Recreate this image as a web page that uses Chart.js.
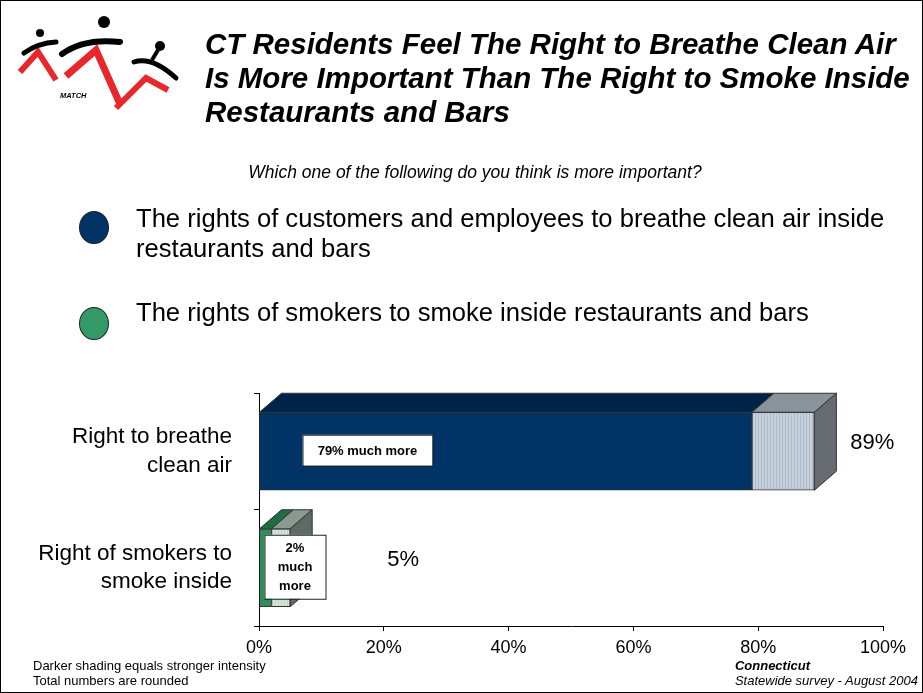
<!DOCTYPE html>
<html>
<head>
<meta charset="utf-8">
<script src="https://cdn.jsdelivr.net/npm/chart.js@4.4.0/dist/chart.umd.min.js"></script>
<style>
  body { margin: 0; background: #fff; }
  #page { position: relative; width: 923px; height: 693px; overflow: hidden; font-family: "Liberation Sans", Arial, sans-serif; color: #000; }
  #frame { position: absolute; left: 0; top: 0; width: 923px; height: 693px; box-sizing: border-box; border: 1px solid #000; pointer-events: none; }
  #chart { position: absolute; left: 0; top: 0; }
  .t { position: absolute; white-space: nowrap; }
  #title { left: 205px; top: 27px; font-size: 29.5px; line-height: 34px; font-weight: bold; font-style: italic; }
  #question { left: 0; width: 950px; text-align: center; top: 161px; font-size: 17.5px; line-height: 22px; font-style: italic; }
  .legtext { left: 136px; font-size: 25.6px; line-height: 30px; }
  .dot { position: absolute; width: 30px; height: 33px; border-radius: 50%; border: 1px solid #222; box-sizing: border-box; }
  .foot { font-size: 13px; line-height: 15px; }
</style>
</head>
<body>
<div id="page">
  <canvas id="chart" width="923" height="693"></canvas>

  <svg class="t" style="left:0;top:0" width="200" height="130" viewBox="0 0 200 130">
    <path d="M20 72 L38 52 L56 80" stroke="#e8262c" stroke-width="6" fill="none"/>
    <path d="M24 53 Q38 43 56 42" stroke="#000" stroke-width="5" fill="none" stroke-linecap="round"/>
    <circle cx="40" cy="33" r="4" fill="#000"/>
    <path d="M66 76 L96 50 L120 104" stroke="#e8262c" stroke-width="7" fill="none"/>
    <path d="M62 54 Q84 38 120 42" stroke="#000" stroke-width="6" fill="none" stroke-linecap="round"/>
    <circle cx="104" cy="22" r="6" fill="#000"/>
    <path d="M116 108 L146 78 L168 90" stroke="#e8262c" stroke-width="6" fill="none"/>
    <path d="M134 62 Q152 56 176 78" stroke="#000" stroke-width="5" fill="none" stroke-linecap="round"/>
    <path d="M152 60 L158 50" stroke="#000" stroke-width="4" fill="none"/>
    <circle cx="160" cy="46" r="5" fill="#000"/>
    <text x="60" y="98" font-size="7.5" font-weight="bold" font-style="italic" font-family="Liberation Sans, Arial">MATCH</text>
  </svg>

  <div id="title" class="t">CT Residents Feel The Right to Breathe Clean Air<br>Is More Important Than The Right to Smoke Inside<br>Restaurants and Bars</div>
  <div id="question" class="t">Which one of the following do you think is more important?</div>

  <div class="dot" style="left:79px;top:211px;background:#003366"></div>
  <div class="t legtext" style="top:203px">The rights of customers and employees to breathe clean air inside<br>restaurants and bars</div>
  <div class="dot" style="left:79px;top:307px;background:#339966"></div>
  <div class="t legtext" style="top:297px">The rights of smokers to smoke inside restaurants and bars</div>

  <div class="t foot" style="left:33px;top:658px">Darker shading equals stronger intensity<br>Total numbers are rounded</div>
  <div class="t foot" style="right:5px;top:658px;font-style:italic"><b>Connecticut</b><br>Statewide survey - August 2004</div>

  <div id="frame"></div>
</div>

<script>
// data
const categories = [['Right to breathe', 'clean air'], ['Right of smokers to', 'smoke inside']];
const muchMore = [79, 2];
const somewhatMore = [10, 3];
const totalLabels = ['89%', '5%'];
const boxLabels = [['79% much more'], ['2%', 'much', 'more']];

// colours per category
const frontDark = ['#003366', '#2f8f5a'];
const topDark = ['#00234a', '#1f6b42'];
const topLight = ['#8b939a', '#8a9a90'];
const sideColor = ['#666c72', '#5d6b62'];

function stripes(a, b) {
  const c = document.createElement('canvas');
  c.width = 3; c.height = 1;
  const x = c.getContext('2d');
  x.fillStyle = a; x.fillRect(0, 0, 3, 1);
  x.fillStyle = b; x.fillRect(2, 0, 1, 1);
  return x.createPattern(c, 'repeat');
}
const ctx = document.getElementById('chart').getContext('2d');
const frontLight = [stripes('#c4d1dd', '#aebdca'), stripes('#d2e6da', '#b9d2c3')];

const dx = 22, dy = -19;

function poly(c, pts, fill) {
  c.beginPath();
  c.moveTo(pts[0][0], pts[0][1]);
  for (let k = 1; k < pts.length; k++) c.lineTo(pts[k][0], pts[k][1]);
  c.closePath();
  c.fillStyle = fill;
  c.fill();
  c.strokeStyle = '#333';
  c.lineWidth = 1;
  c.stroke();
}

const bar3d = {
  id: 'bar3d',
  afterDatasetsDraw(chart) {
    const c = chart.ctx;
    const metas = [chart.getDatasetMeta(0), chart.getDatasetMeta(1)];
    c.save();
    metas.forEach((meta, di) => {
      meta.data.forEach((el, i) => {
        const top = el.y - el.height / 2, bottom = el.y + el.height / 2;
        const x0 = Math.min(el.base, el.x), x1 = Math.max(el.base, el.x);
        poly(c, [[x0, top], [x1, top], [x1 + dx, top + dy], [x0 + dx, top + dy]], di === 0 ? topDark[i] : topLight[i]);
        if (di === metas.length - 1) {
          poly(c, [[x1, top], [x1 + dx, top + dy], [x1 + dx, bottom + dy], [x1, bottom]], sideColor[i]);
        }
      });
    });

    // total labels
    const gap = [14, 75];
    c.fillStyle = '#000';
    c.font = '22px "Liberation Sans", Arial, sans-serif';
    c.textBaseline = 'middle';
    c.textAlign = 'left';
    metas[1].data.forEach((el, i) => {
      c.fillText(totalLabels[i], el.x + dx + gap[i], el.y - 8);
    });

    // "much more" boxes
    const boxes = [{ l: 43, w: 130, h: 31 }, { l: 5, w: 61, h: 64 }];
    c.font = 'bold 13px "Liberation Sans", Arial, sans-serif';
    c.textAlign = 'center';
    metas[0].data.forEach((el, i) => {
      const b = boxes[i];
      const bx = Math.min(el.base, el.x) + b.l;
      const by = el.y - b.h / 2 - 1;
      c.fillStyle = '#fff';
      c.fillRect(bx, by, b.w, b.h);
      c.strokeStyle = '#222';
      c.strokeRect(bx + 0.5, by + 0.5, b.w, b.h);
      c.fillStyle = '#000';
      const lines = boxLabels[i];
      const lh = 19;
      lines.forEach((s, k) => {
        c.fillText(s, bx + b.w / 2, by + b.h / 2 + (k - (lines.length - 1) / 2) * lh + 1);
      });
    });
    c.restore();
  }
};

new Chart(ctx, {
  type: 'bar',
  data: {
    labels: categories,
    datasets: [
      { label: 'Much more', data: muchMore, backgroundColor: frontDark },
      { label: 'Somewhat more', data: somewhatMore, backgroundColor: frontLight }
    ]
  },
  options: {
    indexAxis: 'y',
    responsive: false,
    animation: false,
    layout: { padding: { top: 393, right: 40, bottom: 27, left: 0 } },
    datasets: {
      bar: {
        barThickness: 78,
        borderWidth: 1,
        borderColor: '#333',
        borderSkipped: false
      }
    },
    plugins: { legend: { display: false }, tooltip: { enabled: false } },
    scales: {
      x: {
        stacked: true,
        min: 0,
        max: 100,
        afterFit(scale) { scale.height = 40; },
        ticks: {
          stepSize: 20,
          color: '#000',
          padding: 6,
          font: { family: '"Liberation Sans", Arial, sans-serif', size: 18 },
          callback: v => v + '%'
        },
        grid: { drawOnChartArea: false, drawTicks: true, tickLength: 5, color: '#000' },
        border: { display: true, color: '#000', width: 1 }
      },
      y: {
        stacked: true,
        afterFit(scale) { scale.width = 259; },
        ticks: {
          color: '#000',
          padding: 22,
          font: { family: '"Liberation Sans", Arial, sans-serif', size: 22.5, lineHeight: 1.25 }
        },
        grid: { drawOnChartArea: false, drawTicks: true, tickLength: 5, offset: true, color: '#000' },
        border: { display: true, color: '#000', width: 1 }
      }
    }
  },
  plugins: [bar3d]
});
</script>
</body>
</html>
